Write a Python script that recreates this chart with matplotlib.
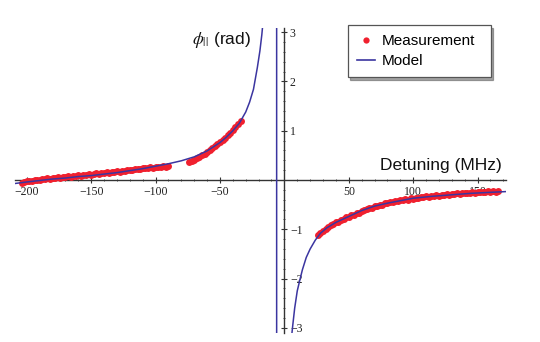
import matplotlib
matplotlib.use('Agg')
import matplotlib.pyplot as plt
from matplotlib.ticker import MultipleLocator
from matplotlib.lines import Line2D

plt.rcParams['mathtext.fontset'] = 'stix'

# model curve, left branch -> pole -> right branch
model_x = [-209, -200, -190, -180, -170, -160, -150, -140, -130, -120, -110, -100,
           -90, -80, -70, -60, -50, -45, -40, -35, -30, -27, -24, -21, -19, -17.5, -16.6,
           -6, -6,
           5.5, 6.5, 8, 10, 12, 14, 17, 20, 24, 28, 33, 40, 50, 60, 70, 80, 90, 100,
           115, 130, 145, 160, 172]
model_y = [-0.07, -0.04, -0.01, 0.02, 0.04, 0.07, 0.09, 0.12, 0.15, 0.19, 0.23, 0.28,
           0.33, 0.39, 0.47, 0.59, 0.76, 0.87, 1.00, 1.15, 1.38, 1.58, 1.84, 2.28, 2.62, 2.95, 3.2,
           3.2, -3.2,
           -3.2, -2.95, -2.6, -2.25, -2.03, -1.82, -1.57, -1.4, -1.22, -1.08, -0.97, -0.86,
           -0.74, -0.62, -0.53, -0.47, -0.42, -0.37, -0.33, -0.30, -0.27, -0.25, -0.235]

# measurement, three scans
meas1_x = list(range(-204, -89, 2))
meas1_y = [-0.06, -0.04, -0.03, -0.01, -0.02, 0.00, 0.01, 0.00, 0.03, 0.02,
           0.04, 0.03, 0.05, 0.04, 0.06, 0.05, 0.07, 0.06, 0.08, 0.07,
           0.09, 0.08, 0.10, 0.09, 0.11, 0.10, 0.12, 0.11, 0.12, 0.14,
           0.13, 0.15, 0.14, 0.16, 0.15, 0.17, 0.16, 0.18, 0.17, 0.19,
           0.18, 0.20, 0.21, 0.20, 0.22, 0.23, 0.22, 0.24, 0.25, 0.24,
           0.26, 0.25, 0.27, 0.26, 0.27, 0.28, 0.27, 0.29]
meas2_x = list(range(-74, -33, 2))
meas2_y = [0.36, 0.39, 0.41, 0.44, 0.47, 0.50, 0.53, 0.57, 0.60, 0.65, 0.68,
           0.73, 0.77, 0.82, 0.86, 0.92, 0.96, 1.02, 1.07, 1.14, 1.20]
meas3_x = list(range(26, 167, 2))
meas3_y = [-1.12, -1.07, -1.04, -0.99, -0.96, -0.92, -0.90, -0.86, -0.85, -0.81,
           -0.80, -0.76, -0.75, -0.71, -0.70, -0.67, -0.66, -0.62, -0.61, -0.59,
           -0.57, -0.56, -0.53, -0.53, -0.50, -0.50, -0.47, -0.47, -0.45, -0.45,
           -0.43, -0.43, -0.41, -0.41, -0.39, -0.40, -0.37, -0.38, -0.36, -0.36,
           -0.34, -0.35, -0.33, -0.34, -0.32, -0.33, -0.31, -0.32, -0.30, -0.31,
           -0.29, -0.30, -0.28, -0.29, -0.27, -0.28, -0.27, -0.27, -0.26, -0.27,
           -0.25, -0.26, -0.24, -0.25, -0.24, -0.24, -0.23, -0.24, -0.23, -0.24,
           -0.23]

xticks = [-200, -150, -100, -50, 50, 100, 150]
xtick_labels = ['\u2212200', '\u2212150', '\u2212100', '\u221250', '50', '100', '150']
yticks = [-3, -2, -1, 1, 2, 3]
ytick_labels = ['\u22123', '\u22122', '\u22121', '1', '2', '3']

red = '#f0202e'
blue = '#3b35a0'
axcol = '#333333'

fig = plt.figure(figsize=(5.4, 3.42), dpi=100)
ax = fig.add_axes([15.2 / 540, 9.2 / 342, 490.7 / 540, 304.6 / 342])
ax.set_xlim(-209, 172)
ax.set_ylim(-3.1, 3.08)

ax.plot(meas1_x + meas2_x + meas3_x, meas1_y + meas2_y + meas3_y, 'o',
        ms=5.0, color=red, mec='none', zorder=3)
ax.plot(model_x, model_y, color=blue, lw=1.1, zorder=4)

# axes through the origin, Mathematica style
ax.spines['top'].set_visible(False)
ax.spines['left'].set_visible(False)
ax.spines['bottom'].set_position(('data', 0))
ax.spines['right'].set_position(('data', 0))
for s in ['bottom', 'right']:
    ax.spines[s].set_color(axcol)
    ax.spines[s].set_linewidth(1.0)
ax.yaxis.tick_right()

ax.set_xticks(xticks, xtick_labels)
ax.set_yticks(yticks, ytick_labels)
ax.xaxis.set_minor_locator(MultipleLocator(10))
ax.yaxis.set_minor_locator(MultipleLocator(0.2))
ax.tick_params(which='major', direction='inout', length=4, width=0.8, color=axcol,
               labelsize=8.5, pad=2)
ax.tick_params(which='minor', direction='inout', length=2, width=0.6, color=axcol)
for lab in ax.get_xticklabels() + ax.get_yticklabels():
    lab.set_fontfamily('Liberation Serif')
    lab.set_color('#222222')

ax.text(74, 0.2, 'Detuning (MHz)', fontsize=12.5, family='Liberation Sans',
        color='#111111', ha='left', va='baseline')
ax.text(-71.7, 2.76, r'$\phi_{||}$ (rad)', fontsize=12.5, family='Liberation Sans',
        color='#111111', ha='left', va='baseline')

handles = [Line2D([], [], ls='none', marker='o', ms=4.5, color=red, mec='none'),
           Line2D([], [], color=blue, lw=1.2)]
leg = ax.legend(handles, ['Measurement', 'Model'], loc='upper left',
                bbox_to_anchor=(347.7 / 540, 1 - 78 / 342, 143 / 540, 53 / 342),
                bbox_transform=fig.transFigure, mode='expand', borderaxespad=0,
                prop={'family': 'Liberation Sans', 'size': 11}, handlelength=1.2,
                handletextpad=0.45, labelspacing=0.4, borderpad=0.6,
                fancybox=False, shadow=True, framealpha=1)
leg.get_frame().set_edgecolor('#555555')
leg.get_frame().set_linewidth(0.9)

fig.savefig('out.png', dpi=100)
